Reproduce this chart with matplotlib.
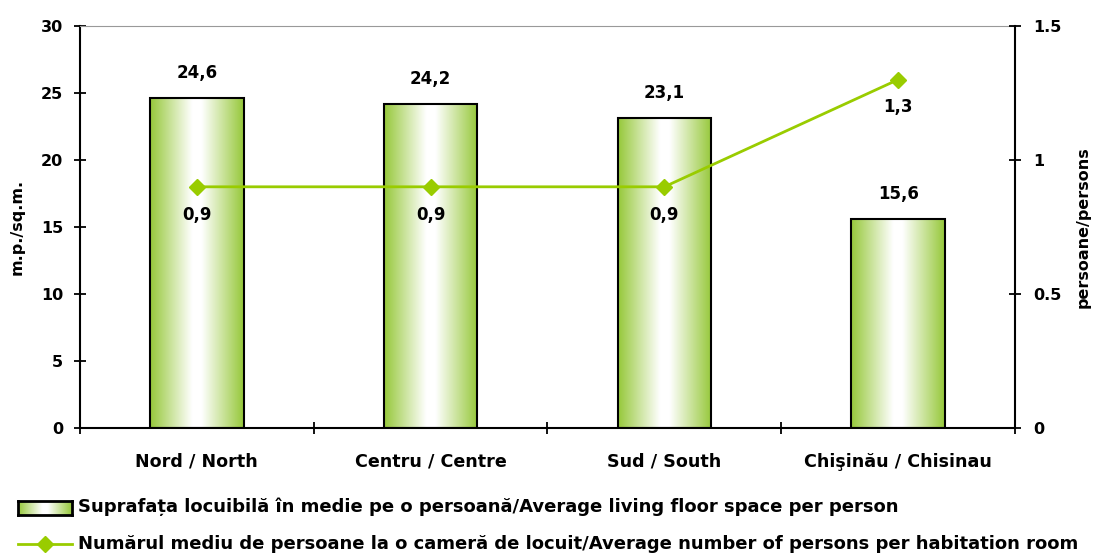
import numpy as np
import matplotlib.pyplot as plt
from matplotlib.lines import Line2D
from matplotlib.colors import LinearSegmentedColormap
from matplotlib.transforms import blended_transform_factory, offset_copy

plt.rcParams['font.family'] = ['DejaVu Sans']
plt.rcParams['font.weight'] = 'bold'

regions = ['Nord / North', 'Centru / Centre', 'Sud / South', 'Chişinău / Chisinau']
floor_space = [24.6, 24.2, 23.1, 15.6]
persons = [0.9, 0.9, 0.9, 1.3]
floor_labels = ['24,6', '24,2', '23,1', '15,6']
persons_labels = ['0,9', '0,9', '0,9', '1,3']
legend_bar = 'Suprafața locuibilă în medie pe o persoană/Average living floor space per person'
legend_line = 'Numărul mediu de persoane la o cameră de locuit/Average number of persons per habitation room'

fs_tick = 11.5
fs_lab = 12
fs_cat = 12.6
fs_leg = 13
green = '#99CC00'
bar_edge = '#96C83A'
cmap = LinearSegmentedColormap.from_list('g', [(0, bar_edge), (0.45, '#FFFFFF'), (0.55, '#FFFFFF'), (1, bar_edge)])
grad = np.linspace(0, 1, 256).reshape(1, -1)

fig = plt.figure(figsize=(10.94, 5.57), dpi=100)
ax = fig.add_axes([0.0731, 0.2316, 0.8547, 0.7217])
x = np.arange(len(regions))

bars = ax.bar(x, floor_space, width=0.4, facecolor='none', edgecolor='black', linewidth=1.5, zorder=3)
for b in bars:
    x0, y0 = b.get_x(), b.get_y()
    w, h = b.get_width(), b.get_height()
    im = ax.imshow(grad, cmap=cmap, aspect='auto', extent=[x0, x0 + w, y0, y0 + h], zorder=2)
    im.set_clip_path(b)
for xi, v, lab in zip(x, floor_space, floor_labels):
    ax.text(xi, v + 1.2, lab, ha='center', va='bottom', fontsize=fs_lab, fontweight='bold')

ax.set_xlim(-0.5, len(regions) - 0.5)
ax.set_ylim(0, 30)
ax.set_yticks(np.arange(0, 31, 5))
ax.set_xticks(np.arange(-0.5, len(regions), 1))
ax.set_xticklabels([])
ax.tick_params(axis='x', which='major', direction='inout', length=8, width=1.3)
ax.tick_params(axis='y', direction='inout', length=8, width=1.3, labelsize=fs_tick, pad=8)
ax.set_ylabel('m.p./sq.m.', fontsize=fs_tick, fontweight='bold', labelpad=12)
ax.spines['top'].set_color('#999999')
ax.spines['right'].set_visible(False)
for s in ['left', 'bottom']:
    ax.spines[s].set_linewidth(1.5)

# category names on a common baseline
cat_tr = offset_copy(blended_transform_factory(ax.transData, ax.transAxes), fig=fig, y=-39, units='dots')
for xi, name in zip(x, regions):
    ax.text(xi, 0, name, ha='center', va='baseline', fontsize=fs_cat, fontweight='bold', transform=cat_tr)

ax2 = ax.twinx()
ax2.plot(x, persons, color=green, linewidth=2, marker='D', markersize=8, zorder=4)
for xi, v, lab in zip(x, persons, persons_labels):
    ax2.text(xi, v - 0.07, lab, ha='center', va='top', fontsize=fs_lab, fontweight='bold')
ax2.set_ylim(0, 1.5)
ax2.set_yticks([0, 0.5, 1, 1.5])
ax2.set_yticklabels(['0', '0.5', '1', '1.5'])
ax2.tick_params(axis='y', direction='inout', length=8, width=1.3, labelsize=fs_tick, pad=9)
ax2.set_ylabel('persoane/persons', fontsize=fs_tick, fontweight='bold', labelpad=10)
for s in ['top', 'left', 'bottom']:
    ax2.spines[s].set_visible(False)
ax2.spines['right'].set_linewidth(1.5)

# legend drawn by hand
sw = fig.add_axes([18 / 1094, 1 - 515 / 557, 54 / 1094, 14 / 557])
sw.imshow(grad, cmap=cmap, aspect='auto')
sw.set_xticks([])
sw.set_yticks([])
for s in sw.spines.values():
    s.set_linewidth(2)
fig.text(78 / 1094, 1 - 507 / 557, legend_bar, va='center', fontsize=fs_leg, fontweight='bold')
fig.add_artist(Line2D([18 / 1094, 72 / 1094], [1 - 544 / 557] * 2, color=green, linewidth=2,
                      transform=fig.transFigure))
fig.add_artist(Line2D([45 / 1094], [1 - 544 / 557], color=green, marker='D', markersize=8,
                      transform=fig.transFigure))
fig.text(78 / 1094, 1 - 544 / 557, legend_line, va='center', fontsize=fs_leg, fontweight='bold')

fig.savefig('out.png', dpi=100)
